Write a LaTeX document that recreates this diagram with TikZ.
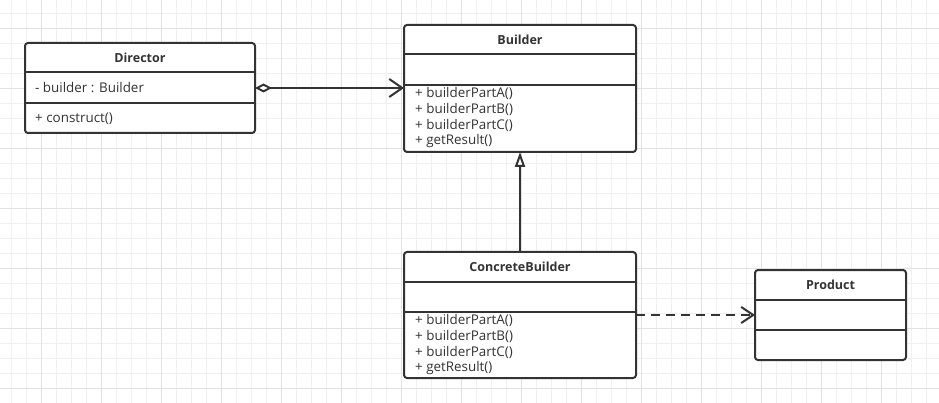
\documentclass[tikz,border=0pt]{standalone}
\usepackage{fontspec}
\setmainfont{Open Sans}
\usetikzlibrary{arrows.meta}
\definecolor{ink}{HTML}{333333}
\definecolor{gridminor}{HTML}{F0F0F0}
\definecolor{gridmajor}{HTML}{E2E2E2}
\begin{document}
\begin{tikzpicture}[x=1pt,y=-1pt,
  classbox/.style={draw=ink, line width=2pt, rounded corners=3pt, fill=white, inner sep=0pt, outer sep=0pt, anchor=north west},
  sepline/.style={draw=ink, line width=2pt},
  title/.style={font=\bfseries\fontsize{12.5}{14}\selectfont, text=ink, inner sep=0pt},
  member/.style={font=\fontsize{13.4}{16}\selectfont, text=ink, inner sep=0pt, anchor=west},
  conn/.style={draw=ink, line width=2pt},
  minorgrid/.style={draw=gridminor, line width=1pt},
  majorgrid/.style={draw=gridmajor, line width=1pt},
]
\useasboundingbox (0,0) rectangle (939,403);
\fill[white] (0,0) rectangle (939,403);
% grid
\foreach \x in {11.5,26.5,...,938} \draw[minorgrid] (\x,0) -- (\x,403);
\foreach \y in {13.5,28.5,...,403} \draw[minorgrid] (0,\y) -- (939,\y);
\foreach \x in {41.5,101.5,...,938} \draw[majorgrid] (\x,0) -- (\x,403);
\foreach \y in {28.5,88.5,...,403} \draw[majorgrid] (0,\y) -- (939,\y);

% Director
\node[classbox, minimum width=230pt, minimum height=90pt] (director) at (25,43) {};
\draw[sepline] (25,72) -- (255,72);
\draw[sepline] (25,103) -- (255,103);
\node[title] (directorT) at (140,57.5) {Director};
\node[member] (dattr) at (35,88) {- builder : Builder};
\node[member] (dop) at (35,118.5) {+ construct()};

% Builder
\node[classbox, minimum width=232pt, minimum height=127pt] (builder) at (404,25) {};
\draw[sepline] (404,54) -- (636,54);
\draw[sepline] (404,85) -- (636,85);
\node[title] (builderT) at (520,39.5) {Builder};
\node[member] (b1) at (415,93.5) {+ builderPartA()};
\node[member] (b2) at (415,109.5) {+ builderPartB()};
\node[member] (b3) at (415,125.5) {+ builderPartC()};
\node[member] (b4) at (415,141.5) {+ getResult()};

% ConcreteBuilder
\node[classbox, minimum width=232pt, minimum height=126pt] (cbuilder) at (404,252) {};
\draw[sepline] (404,282) -- (636,282);
\draw[sepline] (404,312) -- (636,312);
\node[title] (cbuilderT) at (520,267) {ConcreteBuilder};
\node[member] (c1) at (415,320.5) {+ builderPartA()};
\node[member] (c2) at (415,336.5) {+ builderPartB()};
\node[member] (c3) at (415,352.5) {+ builderPartC()};
\node[member] (c4) at (415,368.5) {+ getResult()};

% Product
\node[classbox, minimum width=151pt, minimum height=90pt] (product) at (755,270) {};
\draw[sepline] (755,300) -- (906,300);
\draw[sepline] (755,330) -- (906,330);
\node[title] (productT) at (830.5,285) {Product};

% connectors
\draw[conn, {Diamond[fill=white,length=17pt,width=9pt]}-{Straight Barb[length=13pt,width=18pt]}]
  (director.east |- dattr) -- (builder.west |- dattr);
\draw[conn, -{Triangle[fill=white,length=15pt,width=10pt]}] (cbuilder.north) -- (builder.south);
\draw[conn, dash pattern=on 9pt off 6pt, -{Straight Barb[length=12pt,width=16pt]}]
  (cbuilder.east |- product.west) -- (product.west);
\end{tikzpicture}
\end{document}
